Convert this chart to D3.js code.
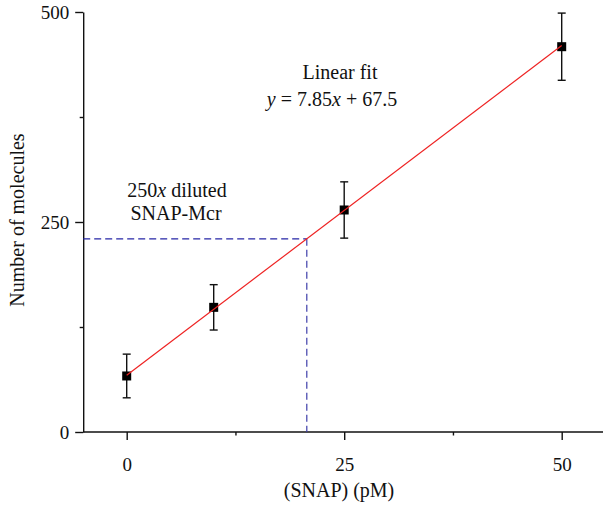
<!DOCTYPE html>
<html>
<head>
<meta charset="utf-8">
<script src="https://cdn.jsdelivr.net/npm/d3@7"></script>
<style>
  body { margin: 0; background: #fff; }
</style>
</head>
<body>
<script>
// data
var snap = [0, 10, 25, 50];
var molecules = [66.7, 148.4, 264.3, 458.7];
var errors = [26, 27, 33.5, 40];
var xTicks = [0, 25, 50];
var xMinor = [12.5, 37.5];
var yTicks = [0, 250, 500];
var yMinor = [125, 375];
var fitSlope = 7.85, fitIntercept = 67.5;
var dilutedY = 230; // 250x diluted SNAP-Mcr

var w = 603, h = 507;
var serif = "'Liberation Serif', 'DejaVu Serif', serif";

var svg = d3.select("body").append("svg")
  .attr("width", w)
  .attr("height", h);

var xScale = d3.scaleLinear().domain([-5, 55]).range([83.2, 605.2]);
var yScale = d3.scaleLinear().domain([0, 500]).range([432, 12]);

// axes
var xAxis = d3.axisBottom(xScale).tickValues(xTicks).tickSize(8).tickPadding(18).tickSizeOuter(0);
var yAxis = d3.axisLeft(yScale).tickValues(yTicks).tickSize(8).tickPadding(6).tickSizeOuter(0);

var gx = svg.append("g")
  .attr("transform", "translate(0," + yScale(0) + ")")
  .call(xAxis);
gx.select(".domain").attr("d", "M83.2,0H" + w);
svg.append("g")
  .attr("transform", "translate(0," + yScale(0) + ")")
  .call(d3.axisBottom(xScale).tickValues(xMinor).tickSize(3.5).tickFormat(""))
  .select(".domain").remove();

var gy = svg.append("g")
  .attr("transform", "translate(" + xScale(-5) + ",0)")
  .call(yAxis);
svg.append("g")
  .attr("transform", "translate(" + xScale(-5) + ",0)")
  .call(d3.axisLeft(yScale).tickValues(yMinor).tickSize(3.5).tickFormat(""))
  .select(".domain").remove();

svg.selectAll(".domain, .tick line").attr("stroke", "#111").attr("stroke-width", 1.4);

// dashed guide lines
var xd = (dilutedY - fitIntercept) / fitSlope;
svg.append("line")
  .attr("x1", xScale(-5)).attr("x2", xScale(xd))
  .attr("y1", yScale(dilutedY)).attr("y2", yScale(dilutedY))
  .attr("stroke", "#2626a6").attr("stroke-width", 1.2)
  .attr("stroke-dasharray", "7,4");
svg.append("line")
  .attr("x1", xScale(xd)).attr("x2", xScale(xd))
  .attr("y1", yScale(dilutedY)).attr("y2", yScale(0))
  .attr("stroke", "#3e3eaa").attr("stroke-width", 1.2)
  .attr("stroke-dasharray", "7,4");

// error bars
var eb = svg.selectAll(".err")
  .data(snap)
  .enter()
  .append("g")
  .attr("class", "err")
  .attr("stroke", "#111")
  .attr("stroke-width", 1.4);
eb.append("line")
  .attr("x1", (d) => xScale(d)).attr("x2", (d) => xScale(d))
  .attr("y1", (d, i) => yScale(molecules[i] + errors[i]))
  .attr("y2", (d, i) => yScale(molecules[i] - errors[i]));
eb.append("line")
  .attr("x1", (d) => xScale(d) - 4).attr("x2", (d) => xScale(d) + 4)
  .attr("y1", (d, i) => yScale(molecules[i] + errors[i]))
  .attr("y2", (d, i) => yScale(molecules[i] + errors[i]));
eb.append("line")
  .attr("x1", (d) => xScale(d) - 4).attr("x2", (d) => xScale(d) + 4)
  .attr("y1", (d, i) => yScale(molecules[i] - errors[i]))
  .attr("y2", (d, i) => yScale(molecules[i] - errors[i]));

// markers
svg.selectAll(".pt")
  .data(snap)
  .enter()
  .append("rect")
  .attr("class", "pt")
  .attr("x", (d) => xScale(d) - 4.5)
  .attr("y", (d, i) => yScale(molecules[i]) - 4.5)
  .attr("width", 9)
  .attr("height", 9)
  .attr("fill", "#000");

// fit line
svg.append("line")
  .attr("x1", xScale(0)).attr("y1", yScale(fitIntercept))
  .attr("x2", xScale(50)).attr("y2", yScale(fitSlope * 50 + fitIntercept))
  .attr("stroke", "#ee2222").attr("stroke-width", 1.2);

// annotations
var t1 = svg.append("text").attr("x", 340).attr("y", 79)
  .attr("text-anchor", "middle").style("font-size", "20px").text("Linear fit");
var t2 = svg.append("text").attr("x", 332).attr("y", 106)
  .attr("text-anchor", "middle").style("font-size", "20px");
t2.append("tspan").style("font-style", "italic").text("y");
t2.append("tspan").text(" = 7.85");
t2.append("tspan").style("font-style", "italic").text("x");
t2.append("tspan").text(" + 67.5");

var t3 = svg.append("text").attr("x", 177).attr("y", 197)
  .attr("text-anchor", "middle").style("font-size", "20px");
t3.append("tspan").text("250");
t3.append("tspan").style("font-style", "italic").text("x");
t3.append("tspan").text(" diluted");
svg.append("text").attr("x", 176).attr("y", 220)
  .attr("text-anchor", "middle").style("font-size", "20px").text("SNAP-Mcr");

// axis titles
svg.append("text").attr("x", 339).attr("y", 497)
  .attr("text-anchor", "middle").style("font-size", "20px").text("(SNAP) (pM)");
svg.append("text")
  .attr("transform", "translate(24,220) rotate(-90)")
  .attr("text-anchor", "middle").style("font-size", "20px").text("Number of molecules");

svg.selectAll("text")
  .style("font-family", serif)
  .attr("fill", "#111");
svg.selectAll(".tick text").style("font-size", "19px");
</script>
</body>
</html>
